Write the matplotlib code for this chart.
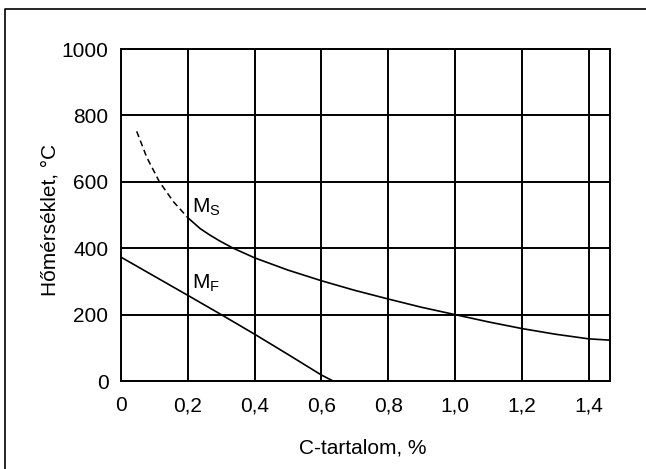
import matplotlib
matplotlib.use("Agg")
import matplotlib.pyplot as plt
from matplotlib.lines import Line2D

plt.rcParams['font.family'] = ['Liberation Sans', 'DejaVu Sans']
plt.rcParams['mathtext.fontset'] = 'custom'
plt.rcParams['mathtext.rm'] = 'Liberation Sans'

# M_S curve, dashed part (low carbon) and solid part
ms_dash_x = [0.047, 0.077, 0.115, 0.157, 0.20]
ms_dash_y = [752, 674, 600, 540, 492]
ms_x = [0.20, 0.237, 0.267, 0.297, 0.336, 0.40, 0.50, 0.60, 0.70, 0.80, 0.90, 1.00, 1.10, 1.20, 1.30, 1.40, 1.464]
ms_y = [492, 459, 439, 421, 400, 371, 334, 302, 273, 247, 222, 200, 178, 158, 141, 127, 123]

# M_F curve
mf_x = [0.0, 0.2, 0.3, 0.4, 0.5, 0.6, 0.635]
mf_y = [373, 258, 200, 141, 80, 18, 0]

x_ticks = [0, 0.2, 0.4, 0.6, 0.8, 1.0, 1.2, 1.4]
x_labels = ['0', '0,2', '0,4', '0,6', '0,8', '1,0', '1,2', '1,4']
y_ticks = [0, 200, 400, 600, 800, 1000]

fig = plt.figure(figsize=(6.46, 4.69), dpi=100)
ax = fig.add_axes([121 / 646, 1 - 381 / 469, (610 - 121) / 646, (381 - 49) / 469])

ax.plot(ms_dash_x, ms_dash_y, color='black', lw=1.1, linestyle=(0, (4, 2.5)))
ax.plot(ms_x, ms_y, color='black', lw=1.2)
ax.plot(mf_x, mf_y, color='black', lw=1.2)

ax.set_xlim(0, 1.464)
ax.set_ylim(0, 1000)
ax.set_xticks(x_ticks)
ax.set_xticklabels(x_labels)
ax.set_yticks(y_ticks)
ax.grid(True, color='black', lw=1.4)
ax.tick_params(length=0, labelsize=15)
ax.tick_params(axis='x', pad=11)
ax.tick_params(axis='y', pad=9)
for s in ax.spines.values():
    s.set_linewidth(1.4)

ax.text(0.213, 522, r'M$_\mathrm{S}$', fontsize=15, va='center')
ax.text(0.213, 295, r'M$_\mathrm{F}$', fontsize=15, va='center')

ax.set_xlabel('C-tartalom, %', fontsize=15, va='center')
ax.set_ylabel('Hőmérséklet, °C', fontsize=15, va='center')
ax.xaxis.set_label_coords((363 - 121) / 489, (381 - 448) / 332)
ax.yaxis.set_label_coords((50 - 121) / 489, (381 - 220) / 332)

# outer frame (top and left edges)
fig.add_artist(Line2D([5 / 646, 5 / 646, 1], [0, 1 - 9 / 469, 1 - 9 / 469],
                      transform=fig.transFigure, color='black', lw=1.2))

fig.savefig('out.png', dpi=100)
